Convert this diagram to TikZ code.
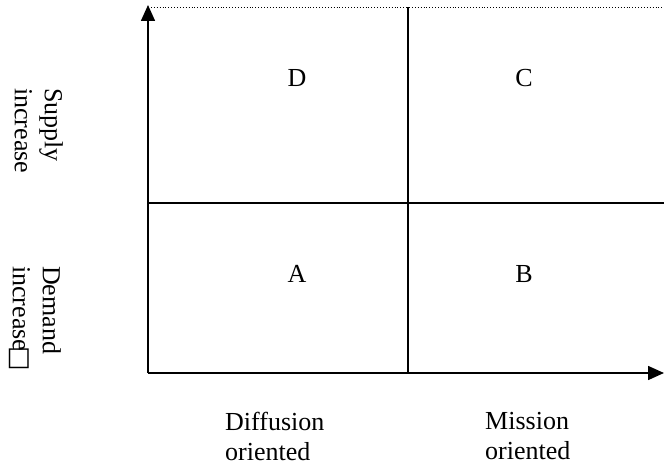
\documentclass[tikz,border=0pt]{standalone}
\usepackage{fontspec}
\setmainfont{Liberation Serif}
\newfontfamily\symfont{DejaVu Sans}
\usetikzlibrary{arrows.meta}
\begin{document}
\begin{tikzpicture}[x=1pt,y=-1pt,
  axis/.style={line width=1.6pt,-{Triangle[length=16pt,width=14pt]}},
  gridline/.style={line width=1.6pt},
  dots/.style={line width=0.9pt,dash pattern=on 0.9pt off 2pt},
  lbl/.style={font=\fontsize{26}{30}\selectfont, inner sep=0pt},
  cell/.style={lbl, anchor=base},
  side/.style={lbl, align=left, rotate=-90, anchor=north west},
  foot/.style={lbl, align=left, anchor=north west}]
\useasboundingbox (0,0) rectangle (664,468);
% frame corners and axis ends
\coordinate (o) at (148,373);
\coordinate (top) at (148,5);
\coordinate (right) at (664,373);
\coordinate (tl) at (148,7);
\coordinate (tr) at (664,7);
\coordinate (mt) at (408,7);
\coordinate (mb) at (408,373);
\coordinate (ml) at (148,203);
\coordinate (mr) at (664,203);
% upper boundary, quadrant dividers, axes
\draw[dots] (tl) -- (tr);
\draw[gridline] (mt) -- (mb);
\draw[gridline] (ml) -- (mr);
\draw[axis] (o) -- (top);
\draw[axis] (o) -- (right);
% quadrant letters
\node[cell] (D) at (297,87) {D};
\node[cell] (C) at (524,87) {C};
\node[cell] (A) at (297,282) {A};
\node[cell] (B) at (524,282) {B};
% vertical axis labels
\node[side] (supply) at (63,88) {Supply\\increase};
\node[side] (demand) at (61,266) {Demand\\increase{\symfont\kern-5pt □}};
% horizontal axis labels
\node[foot] (diff) at (225,412) {Diffusion\\oriented};
\node[foot] (miss) at (485,412) {Mission\\oriented};
\end{tikzpicture}
\end{document}
